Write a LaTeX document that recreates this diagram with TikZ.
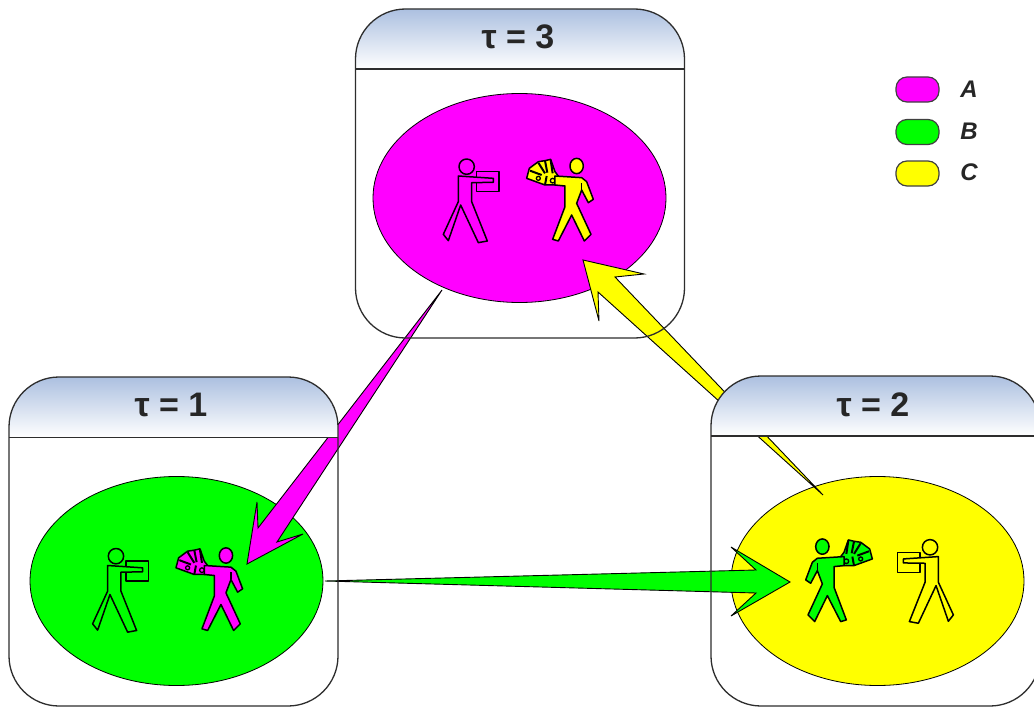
\documentclass[tikz,border=0pt]{standalone}
\usepackage{fontspec}
\setsansfont{Liberation Sans}
\usetikzlibrary{shapes.geometric}
\definecolor{magA}{RGB}{255,0,255}
\definecolor{grnB}{RGB}{0,255,0}
\definecolor{yelC}{RGB}{255,255,0}
\definecolor{hdrtop}{RGB}{172,192,224}
\definecolor{edgec}{RGB}{45,45,45}
\tikzset{
  zone/.style={ellipse,draw=black,line width=0.8pt,minimum width=293pt,minimum height=209pt,inner sep=0pt},
  fatarrow/.style={draw=black,line width=0.9pt,line join=miter,miter limit=8},
  boxedge/.style={draw=edgec,line width=1.3pt},
  title/.style={font=\sffamily\bfseries\fontsize{34}{36}\selectfont,text=black!85,inner sep=0pt},
  pill/.style={draw=black!75,line width=1.2pt,rounded corners=11pt,minimum width=43pt,minimum height=25pt,inner sep=0pt},
  legtext/.style={font=\sffamily\bfseries\itshape\fontsize{24}{26}\selectfont,text=black!85,inner sep=0pt},
  figline/.style={draw=black,line width=1.5pt,line join=round},
  pics/manbox/.style={code={
    \begin{scope}[x=0.3333pt,y=-0.3333pt]
      \draw[figline,fill=#1] (140,95) -- (207,95) -- (207,155) -- (140,155) -- cycle;
      \draw[figline,fill=#1] (85,108) -- (190,115) -- (190,127) -- (125,128) -- (125,185)
        -- (172,303) -- (145,308) -- (92,195) -- (55,302) -- (40,283) -- (85,185) -- cycle;
      \draw[figline,fill=#1] (110,80) circle[radius=23];
    \end{scope}}},
  pics/walker/.style={code={
    \begin{scope}[x=0.3333pt,y=-0.3333pt]
      \draw[figline,fill=#1] (290,115) -- (298,85) -- (325,65) -- (345,62) -- (362,58) -- (375,95)
        -- (388,112) -- (375,135) -- (345,135) -- cycle;
      \draw[black,line width=2pt] (325,68) -- (345,100) (345,62) -- (352,98) (362,60) -- (368,100)
        (345,135) -- (350,108) (300,92) -- (335,105);
      \draw[black,line width=1.3pt] (325,115) circle[radius=6] (368,122) circle[radius=7];
      \draw[figline,fill=#1] (375,108) -- (455,113) -- (470,125) -- (490,178) -- (475,188) -- (455,150)
        -- (440,190) -- (483,283) -- (463,303)
        -- (425,225) -- (385,303) -- (368,298) -- (405,200) -- (405,138) -- (375,135) -- cycle;
      \draw[figline] (455,150) -- (455,128);
      \draw[figline,fill=#1] (440,78) ellipse[x radius=20,y radius=23];
    \end{scope}}}
}
\begin{document}
\begin{tikzpicture}[x=1pt,y=-1pt]
  \useasboundingbox (0,0) rectangle (1034,709);
  \clip (0,0) rectangle (1034,709);
  \fill[white] (0,0) rectangle (1034,709);

  % zones
  \node[zone,fill=magA] (zone3) at (519.5,198) {};
  \node[zone,fill=grnB] (zone1) at (176.5,581) {};
  \node[zone,fill=yelC] (zone2) at (877.5,581) {};

  % figures
  \pic at (430,140) {manbox=magA};
  \pic at (430,140) {walker=yelC};
  \pic at (79.3,529.5) {manbox=grnB};
  \pic at (79.3,529.5) {walker=magA};
  \pic[xscale=-1] at (966.7,520.6) {manbox=yelC};
  \pic[xscale=-1] at (969,520.6) {walker=grnB};

  % arrow ends
  \coordinate (tailA) at (442,290);
  \coordinate (tipA) at (247,564);
  \coordinate (tailB) at (325,581);
  \coordinate (tipB) at (790,582);
  \coordinate (tailC) at (823,495);
  \coordinate (tipC) at (583,260);

  \draw[fatarrow,fill=magA] (tipA) -- (257,502) -- (258,528) -- (tailA) -- (277,542) -- (303,534) -- cycle;
  \draw[fatarrow,fill=yelC] (tipC) -- (644,274) -- (615,277) -- (tailC) -- (598,292) -- (599,321) -- cycle;
  \draw[fatarrow,fill=grnB] (tipB) -- (731,547) -- (756,570) -- (tailB) -- (756,593) -- (731,616) -- cycle;

  % headers and box outlines
  \shade[top color=hdrtop,bottom color=white]
    (355.5,69) -- (355.5,59) arc[start angle=180,end angle=270,radius=50] -- (634.5,9)
    arc[start angle=270,end angle=360,radius=50] -- (684.5,69) -- cycle;
  \shade[top color=hdrtop,bottom color=white]
    (9,437.5) -- (9,427) arc[start angle=180,end angle=270,radius=50] -- (288,377)
    arc[start angle=270,end angle=360,radius=50] -- (338,437.5) -- cycle;
  \shade[top color=hdrtop,bottom color=white]
    (711,436) -- (711,426) arc[start angle=180,end angle=270,radius=50] -- (990,376)
    arc[start angle=270,end angle=360,radius=50] -- (1040,436) -- cycle;

  \draw[boxedge,rounded corners=50pt] (355.5,9) rectangle (684.5,338);
  \draw[boxedge,rounded corners=50pt] (9,377) rectangle (338,706);
  \draw[boxedge,rounded corners=50pt] (711,376) rectangle (1040,706);
  \draw[boxedge,line width=1.7pt] (355.5,69) -- (684.5,69);
  \draw[boxedge,line width=1.7pt] (9,437.5) -- (338,437.5);
  \draw[boxedge,line width=1.7pt] (711,436) -- (1040,436);

  \node[title] (t3) at (518,37) {τ = 3};
  \node[title] (t1) at (171,405) {τ = 1};
  \node[title] (t2) at (873,405) {τ = 2};

  % legend
  \node[pill,fill=magA] (legA) at (917.5,89.5) {};
  \node[pill,fill=grnB] (legB) at (917.5,132) {};
  \node[pill,fill=yelC] (legC) at (917.5,173.5) {};
  \node[legtext] (labA) at (969,89) {A};
  \node[legtext] (labB) at (969,131) {B};
  \node[legtext] (labC) at (969,172) {C};
\end{tikzpicture}
\end{document}
